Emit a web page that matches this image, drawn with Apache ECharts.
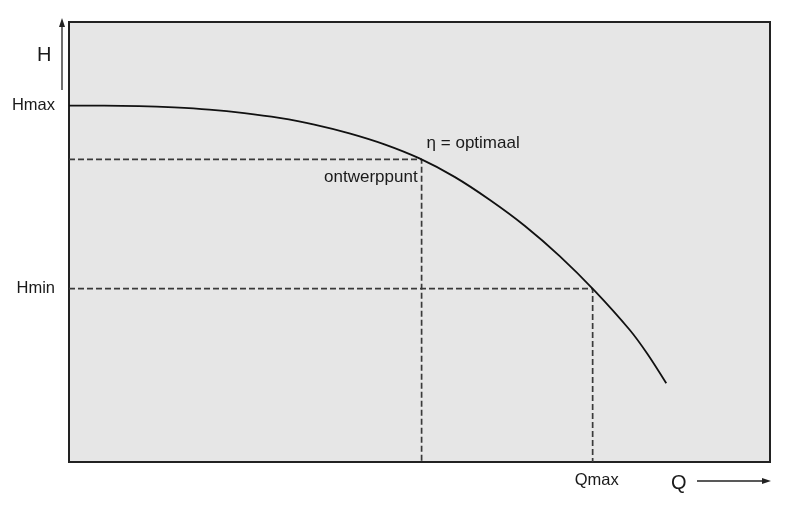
<!DOCTYPE html>
<html>
<head>
<meta charset="utf-8">
<script src="https://cdn.jsdelivr.net/npm/echarts@6/dist/echarts.min.js"></script>
<style>
html,body{margin:0;padding:0;background:#fff;}
#c{width:800px;height:513px;}
</style>
</head>
<body>
<div id="c"></div>
<script>
// Pump curve (Q, H), axes 0..100
const curveQ = [0, 5, 10, 15, 20, 25, 30, 35, 40, 45, 50, 55, 60, 65, 70, 75, 80, 82.5, 85.2];
const curveH = [81.0, 81.0, 80.9, 80.6, 80.1, 79.3, 78.2, 76.7, 74.7, 72.2, 69.0, 64.8, 59.6, 53.7, 46.8, 38.9, 30.0, 24.6, 17.9];
const designPoint = [50.3, 68.8];
const qmaxPoint = [74.7, 39.4];
const yTickValues = [81.0, 39.4];
const yTickLabels = ['Hmax', 'Hmin'];
const xTickValues = [74.7];
const xTickLabels = ['Qmax'];
const pointLabels = ['η = optimaal', 'ontwerppunt'];

const curve = curveQ.map((q, i) => [q, curveH[i]]);
const dashDesign = [[0, designPoint[1]], designPoint, [designPoint[0], 0]];
const dashQmax = [[0, qmaxPoint[1]], qmaxPoint, [qmaxPoint[0], 0]];

const chart = echarts.init(document.getElementById('c'));
const txt = '#1a1a1a';
const font = 'Liberation Sans, Arial, Helvetica, sans-serif';
const dashStyle = { color: '#3a3a3a', width: 1.7, type: [6, 3] };

chart.setOption({
  animation: false,
  textStyle: { fontFamily: font },
  grid: {
    left: 69, top: 22, right: 30, bottom: 51,
    show: true, backgroundColor: '#e6e6e6', borderColor: '#222', borderWidth: 2
  },
  xAxis: {
    type: 'value', min: 0, max: 100,
    axisLine: { show: false }, axisTick: { show: false }, splitLine: { show: false },
    axisLabel: {
      customValues: xTickValues,
      formatter: v => xTickLabels[xTickValues.indexOf(v)] || '',
      color: txt, fontSize: 16.5, margin: 8, fontFamily: font,
      padding: [2, 0, 0, 8]
    }
  },
  yAxis: {
    type: 'value', min: 0, max: 100,
    axisLine: { show: false }, axisTick: { show: false }, splitLine: { show: false },
    axisLabel: {
      customValues: yTickValues,
      formatter: v => yTickLabels[yTickValues.indexOf(v)] || '',
      color: txt, fontSize: 16.5, margin: 14, fontFamily: font,
      padding: [6, 0, 0, 0]
    }
  },
  series: [
    {
      type: 'line', data: dashDesign, symbol: 'none', lineStyle: dashStyle, z: 2
    },
    {
      type: 'line', data: dashQmax, symbol: 'none', lineStyle: dashStyle, z: 2
    },
    {
      type: 'line', data: curve, symbol: 'none', smooth: 0.3,
      lineStyle: { color: '#111', width: 1.8 }, z: 3
    },
    {
      type: 'scatter', symbolSize: 0, z: 4,
      itemStyle: { opacity: 1 },
      data: [
        { value: designPoint, label: { show: true, formatter: pointLabels[0], position: 'right', distance: 0, offset: [5, -16], color: txt, fontSize: 17, fontFamily: font } },
        { value: designPoint, label: { show: true, formatter: pointLabels[1], position: 'left', distance: 0, offset: [-4, 18], color: txt, fontSize: 17, fontFamily: font } }
      ]
    }
  ],
  graphic: [
    { type: 'text', left: 37, top: 45, style: { text: 'H', font: '20px ' + font, fill: txt } },
    { type: 'line', shape: { x1: 62, y1: 90, x2: 62, y2: 26 }, style: { stroke: '#222', lineWidth: 1.3 } },
    { type: 'polygon', shape: { points: [[62, 18], [59, 27], [65, 27]] }, style: { fill: '#222' } },
    { type: 'text', left: 671, top: 473, style: { text: 'Q', font: '20px ' + font, fill: txt } },
    { type: 'line', shape: { x1: 697, y1: 481, x2: 763, y2: 481 }, style: { stroke: '#222', lineWidth: 1.3 } },
    { type: 'polygon', shape: { points: [[771, 481], [762, 478], [762, 484]] }, style: { fill: '#222' } }
  ]
});
</script>
</body>
</html>
